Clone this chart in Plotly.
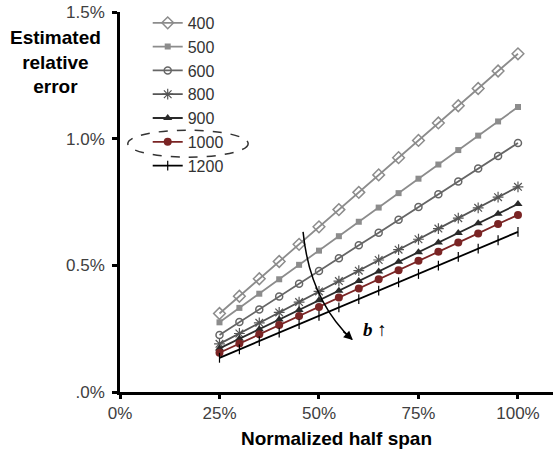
import plotly.graph_objects as go

x_vals = [25, 30, 35, 40, 45, 50, 55, 60, 65, 70, 75, 80, 85, 90, 95, 100]

s400 = [0.310, 0.378, 0.447, 0.515, 0.583, 0.652, 0.720, 0.788, 0.857, 0.925, 0.993, 1.062, 1.130, 1.198, 1.267, 1.335]
s500 = [0.275, 0.332, 0.388, 0.445, 0.502, 0.558, 0.615, 0.672, 0.728, 0.785, 0.842, 0.898, 0.955, 1.012, 1.068, 1.125]
s600 = [0.225, 0.276, 0.326, 0.377, 0.427, 0.478, 0.528, 0.579, 0.629, 0.680, 0.730, 0.781, 0.831, 0.882, 0.932, 0.983]
s800 = [0.190, 0.231, 0.273, 0.314, 0.355, 0.397, 0.438, 0.479, 0.521, 0.562, 0.603, 0.645, 0.686, 0.727, 0.769, 0.810]
s900 = [0.172, 0.210, 0.248, 0.286, 0.324, 0.362, 0.400, 0.438, 0.476, 0.514, 0.552, 0.590, 0.628, 0.666, 0.704, 0.742]
s1000 = [0.155, 0.191, 0.228, 0.264, 0.300, 0.336, 0.373, 0.409, 0.445, 0.481, 0.518, 0.554, 0.590, 0.626, 0.663, 0.699]
s1200 = [0.135, 0.168, 0.201, 0.234, 0.268, 0.301, 0.334, 0.367, 0.400, 0.433, 0.466, 0.499, 0.533, 0.566, 0.599, 0.632]

series_names = ["400", "500", "600", "800", "900", "1000", "1200"]
series_data = [s400, s500, s600, s800, s900, s1000, s1200]

x_tickvals = [0, 25, 50, 75, 100]
x_ticktext = ["0%", "25%", "50%", "75%", "100%"]
y_tickvals = [0, 0.5, 1.0, 1.5]
y_ticktext = [".0%", "0.5%", "1.0%", "1.5%"]

styles = {
    "400": dict(line="#8c8c8c", symbol="diamond-open", size=9, mcolor="#8c8c8c", mline=1.5),
    "500": dict(line="#8c8c8c", symbol="square", size=6, mcolor="#8c8c8c", mline=0),
    "600": dict(line="#666666", symbol="circle-open", size=7, mcolor="#666666", mline=1.5),
    "800": dict(line="#555555", symbol="asterisk-open", size=9, mcolor="#555555", mline=1.2),
    "900": dict(line="#2a2a2a", symbol="triangle-up", size=8, mcolor="#2a2a2a", mline=0),
    "1000": dict(line="#7a2424", symbol="circle", size=8, mcolor="#7a2424", mline=0),
    "1200": dict(line="#000000", symbol="line-ns-open", size=7, mcolor="#000000", mline=1.2),
}

fig = go.Figure()
for name, ys in zip(series_names, series_data):
    st = styles[name]
    fig.add_trace(go.Scatter(
        x=x_vals, y=ys, name=name, mode="lines+markers",
        line=dict(color=st["line"], width=1.8),
        marker=dict(symbol=st["symbol"], size=st["size"], color=st["mcolor"],
                    line=dict(color=st["mcolor"], width=st["mline"])),
    ))

fig.update_layout(
    width=555, height=454,
    margin=dict(l=120, r=2, t=12, b=62, autoexpand=False),
    paper_bgcolor="white", plot_bgcolor="white",
    font=dict(family="Liberation Sans, Arial, sans-serif", size=17, color="#404040"),
    showlegend=True,
    legend=dict(x=0.064, y=1.016, xanchor="left", yanchor="top",
                bgcolor="rgba(0,0,0,0)", tracegroupgap=0,
                font=dict(size=16, color="#333333")),
    xaxis=dict(range=[0, 108.8], tickvals=x_tickvals, ticktext=x_ticktext, automargin=False,
               showgrid=False, zeroline=False, showline=True, linecolor="black", linewidth=2.5,
               ticks="outside", ticklen=4, tickwidth=2.5, tickcolor="black",
               ticklabeloverflow="allow",
               title=dict(text="<b>Normalized half span</b>", font=dict(size=19, color="black"), standoff=10)),
    yaxis=dict(range=[0, 1.5], tickvals=y_tickvals, ticktext=y_ticktext, automargin=False,
               showgrid=False, zeroline=False, showline=True, linecolor="black", linewidth=2.5,
               ticks="outside", ticklen=5, tickwidth=2.5, tickcolor="black", ticklabelstandoff=4,
               ticklabeloverflow="allow"),
)

# y-axis title (horizontal, top-left)
fig.add_annotation(xref="paper", yref="paper", x=-0.150, y=0.868, xanchor="center", yanchor="middle",
                   text="<b>Estimated<br>relative<br>error</b>", showarrow=False,
                   font=dict(size=19, color="black"))

# dashed ellipse around the 1000 legend entry
fig.add_shape(type="circle", xref="paper", yref="paper",
              x0=0.018, x1=0.296, y0=0.618, y1=0.689,
              line=dict(color="#333333", width=1.5, dash="dash"))

# curved arrow
fig.add_shape(type="path", xref="x", yref="y",
              path="M 46.0 0.632 Q 47.7 0.363 58.3 0.207",
              line=dict(color="black", width=1.5))
fig.add_annotation(x=58.5, y=0.205, xref="x", yref="y", ax=-11, ay=-10,
                   showarrow=True, arrowhead=2, arrowsize=1.2, arrowwidth=1.5,
                   arrowcolor="black", text="")
fig.add_annotation(x=64.1, y=0.245, xref="x", yref="y", showarrow=False,
                   text="<b><i>b</i></b> ↑",
                   font=dict(family="Liberation Serif, Times New Roman, serif", size=19, color="black"))

fig.write_html("out.html", config={"displayModeBar": False},
               post_script="document.body.style.margin='0';document.body.style.overflow='hidden';")
